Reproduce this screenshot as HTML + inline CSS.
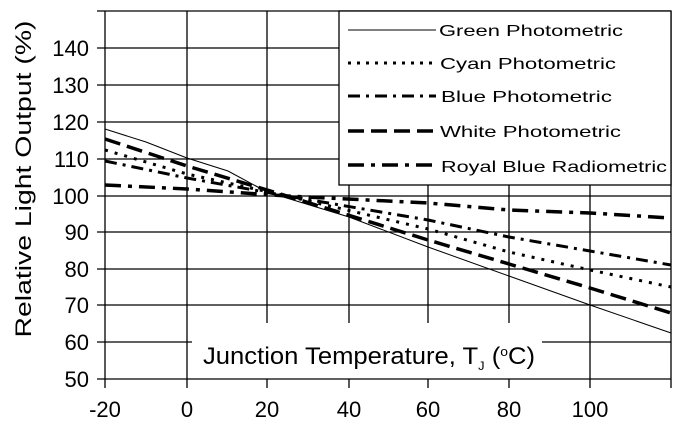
<!DOCTYPE html>
<html><head><meta charset="utf-8"><style>
html,body{margin:0;padding:0;background:#fff;}
svg{display:block;font-family:"Liberation Sans",Arial,sans-serif;}
</style></head><body>
<svg width="678" height="424" viewBox="0 0 678 424" xmlns="http://www.w3.org/2000/svg">
<rect width="678" height="424" fill="#fff"/>
<g stroke="#000" stroke-width="1.3" fill="none">
<line x1="97" y1="48" x2="339" y2="48"/>
<line x1="97" y1="85" x2="339" y2="85"/>
<line x1="97" y1="122" x2="339" y2="122"/>
<line x1="97" y1="159" x2="339" y2="159"/>
<line x1="97" y1="196" x2="671" y2="196"/>
<line x1="97" y1="232" x2="671" y2="232"/>
<line x1="97" y1="269" x2="671" y2="269"/>
<line x1="97" y1="305" x2="671" y2="305"/>
<line x1="97" y1="342" x2="192" y2="342"/>
<line x1="542" y1="342" x2="671" y2="342"/>
<line x1="97" y1="379" x2="671" y2="379"/>
<line x1="97" y1="11" x2="671" y2="11"/>
<line x1="105" y1="11" x2="105" y2="388"/>
<line x1="187" y1="11" x2="187" y2="388"/>
<line x1="267" y1="11" x2="267" y2="323"/>
<line x1="349" y1="185" x2="349" y2="323"/>
<line x1="428" y1="185" x2="428" y2="323"/>
<line x1="509" y1="185" x2="509" y2="323"/>
<line x1="590" y1="185" x2="590" y2="388"/>
<line x1="671" y1="11" x2="671" y2="388"/>
<line x1="267" y1="379" x2="267" y2="388"/>
<line x1="349" y1="379" x2="349" y2="388"/>
<line x1="428" y1="379" x2="428" y2="388"/>
<line x1="509" y1="379" x2="509" y2="388"/>
<rect x="339" y="11" width="332" height="174" fill="#fff"/>
</g>
<g fill="none" stroke="#000">
<polyline stroke-width="1" points="105,129 146,142 187,158 228,171 267,192 349,217 428,247 509,276 590,305 671,333"/>
<polyline stroke-width="3.5" stroke-dasharray="16,7" points="105,139 187,166 287,196 428,240 509,264 590,288 671,313"/>
<polyline stroke-width="3" stroke-dasharray="3,7" points="105,150 187,174 287,196 428,229 509,252 590,270 671,287"/>
<polyline stroke-width="3" stroke-dasharray="12,6,3,6" points="105,161 187,178 287,196 428,220 509,237 590,251 671,265"/>
<polyline stroke-width="3.5" stroke-dasharray="16,7,4,7" points="105,185 187,189 287,196 428,203 509,210 590,213 671,218"/>
</g>
<g fill="none" stroke="#000">
<line x1="348" y1="30" x2="436" y2="30" stroke-width="1"/>
<line x1="348" y1="63" x2="436" y2="63" stroke-width="3" stroke-dasharray="3,6"/>
<line x1="348" y1="96" x2="436" y2="96" stroke-width="3" stroke-dasharray="12,6,3,6"/>
<line x1="348" y1="131" x2="436" y2="131" stroke-width="3.5" stroke-dasharray="16,7"/>
<line x1="348" y1="165" x2="436" y2="165" stroke-width="3.5" stroke-dasharray="16,7,4,7"/>
</g>
<g font-size="16" fill="#000">
<text x="439" y="36" textLength="184" lengthAdjust="spacingAndGlyphs">Green Photometric</text>
<text x="440" y="69" textLength="176" lengthAdjust="spacingAndGlyphs">Cyan Photometric</text>
<text x="441" y="102" textLength="171" lengthAdjust="spacingAndGlyphs">Blue Photometric</text>
<text x="440" y="137" textLength="181" lengthAdjust="spacingAndGlyphs">White Photometric</text>
<text x="441" y="172" textLength="226" lengthAdjust="spacingAndGlyphs">Royal Blue Radiometric</text>
</g>
<g font-size="22" fill="#000" text-anchor="end">
<text x="89" y="56">140</text>
<text x="89" y="93">130</text>
<text x="89" y="130">120</text>
<text x="89" y="167">110</text>
<text x="89" y="204">100</text>
<text x="89" y="240">90</text>
<text x="89" y="277">80</text>
<text x="89" y="313">70</text>
<text x="89" y="350">60</text>
<text x="89" y="387">50</text>
</g>
<g font-size="22" fill="#000" text-anchor="middle">
<text x="105" y="417">-20</text>
<text x="187" y="417">0</text>
<text x="267" y="417">20</text>
<text x="349" y="417">40</text>
<text x="428" y="417">60</text>
<text x="509" y="417">80</text>
<text x="590" y="417">100</text>
</g>
<text font-size="22" fill="#000" transform="translate(31,179) rotate(-90)" text-anchor="middle" textLength="317" lengthAdjust="spacingAndGlyphs">Relative Light Output (%)</text>
<text font-size="24" fill="#000" x="203" y="364" textLength="332" lengthAdjust="spacingAndGlyphs">Junction Temperature, T<tspan font-size="12" dy="6">J</tspan><tspan dy="-6"> (</tspan><tspan font-size="13" dy="-8">o</tspan><tspan dy="8">C)</tspan></text>
</svg>
</body></html>
